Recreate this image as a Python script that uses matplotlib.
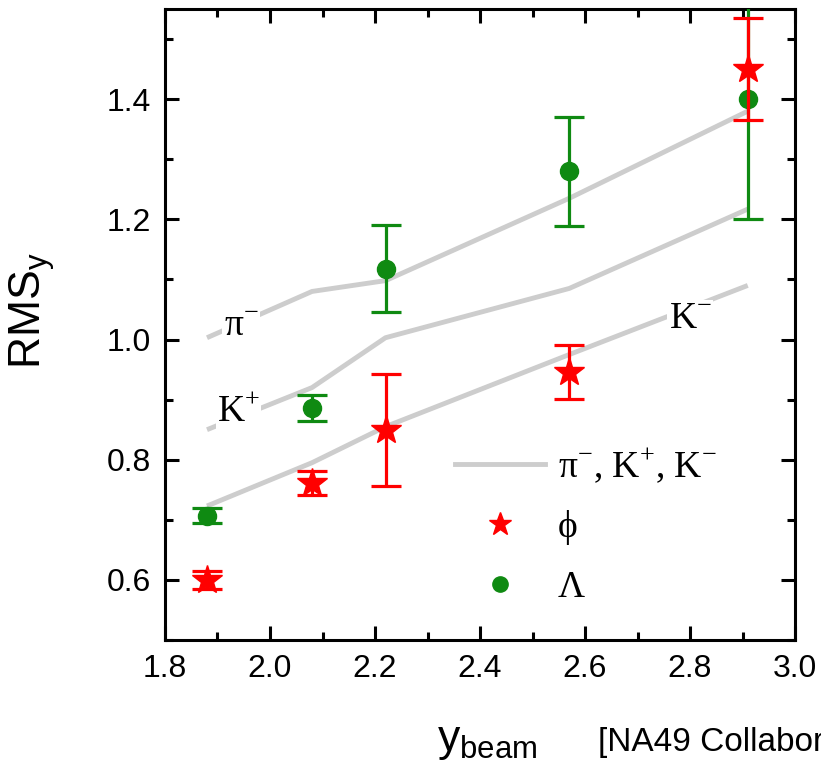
import matplotlib
matplotlib.use("Agg")
import matplotlib.pyplot as plt
from matplotlib.lines import Line2D
from matplotlib.ticker import MultipleLocator

# beam rapidity values
y_beam = [1.88, 2.08, 2.22, 2.57, 2.91]

# gray reference curves (pi-, K+, K-)
rms_pim = [1.003, 1.080, 1.098, 1.235, 1.380]
rms_kp = [0.850, 0.920, 1.003, 1.085, 1.217]
rms_km = [0.723, 0.795, 0.855, 0.975, 1.090]

# phi
rms_phi = [0.600, 0.762, 0.850, 0.946, 1.450]
err_phi = [0.015, 0.020, 0.093, 0.045, 0.085]

# Lambda
rms_lam = [0.707, 0.886, 1.118, 1.280, 1.400]
err_lam = [0.012, 0.022, 0.072, 0.091, 0.200]

plt.rcParams["font.family"] = ["Liberation Sans", "DejaVu Sans"]

fig = plt.figure(figsize=(8.21, 7.68), dpi=100)
ax = fig.add_axes([165 / 821, 1 - 640 / 768, 630 / 821, 631 / 768])

gray = "#cdcdcd"
red = "#ff0000"
green = "#0f8a12"

for vals in (rms_pim, rms_kp, rms_km):
    ax.plot(y_beam, vals, color=gray, lw=3.5, solid_capstyle="butt", zorder=1)

serif = ["Liberation Serif", "DejaVu Serif"]
lab_box = dict(facecolor="white", edgecolor="none", pad=1)
ax.text(1.945, 1.022, r"π$^\mathregular{-}$", fontsize=27, family=serif, ha="center",
        va="center", bbox=lab_box, zorder=2)
ax.text(1.94, 0.878, r"K$^\mathregular{+}$", fontsize=27, family=serif, ha="center",
        va="center", bbox=lab_box, zorder=2)
ax.text(2.80, 1.035, r"K$^\mathregular{-}$", fontsize=27, family=serif, ha="center",
        va="center", bbox=lab_box, zorder=2)

ax.errorbar(y_beam, rms_lam, yerr=err_lam, fmt="o", color=green, ms=13, elinewidth=2.3,
            capsize=11, capthick=2.3, zorder=3)
ax.errorbar(y_beam, rms_phi, yerr=err_phi, fmt="*", color=red, ms=22, elinewidth=2.3,
            capsize=11, capthick=2.3, zorder=4)

ax.set_xlim(1.8, 3.0)
ax.set_ylim(0.5, 1.55)
ax.xaxis.set_major_locator(MultipleLocator(0.2))
ax.xaxis.set_minor_locator(MultipleLocator(0.1))
ax.yaxis.set_major_locator(MultipleLocator(0.2))
ax.yaxis.set_minor_locator(MultipleLocator(0.1))
ax.xaxis.set_major_formatter(plt.FormatStrFormatter("%.1f"))
ax.yaxis.set_major_formatter(plt.FormatStrFormatter("%.1f"))
ax.tick_params(which="both", direction="in", top=True, right=True, width=2.2,
               labelsize=23, pad=10)
ax.tick_params(which="major", length=10)
ax.tick_params(which="minor", length=5.5)
for sp in ax.spines.values():
    sp.set_linewidth(2.2)

handles = [
    Line2D([], [], color=gray, lw=3.5),
    Line2D([], [], color=red, marker="*", ls="none", ms=17),
    Line2D([], [], color=green, marker="o", ls="none", ms=11),
]
labels = [r"π$^\mathregular{-}$, K$^\mathregular{+}$, K$^\mathregular{-}$", "ϕ", "Λ"]
ax.legend(handles, labels, frameon=False, loc="lower left",
          bbox_to_anchor=(0.46, 0.055), prop={"family": serif, "size": 27},
          handlelength=2.4, handletextpad=0.35, labelspacing=0.68,
          borderpad=0, borderaxespad=0)

fig.text(32 / 821, 1 - 311 / 768, r"RMS$_\mathregular{y}$", rotation=90, fontsize=32,
         ha="center", va="center")
fig.text(437 / 821, 1 - 742 / 768, r"y$_\mathregular{beam}$", fontsize=32,
         ha="left", va="center")
fig.text(598 / 821, 1 - 742 / 768, "[NA49 Collaboration]", fontsize=24,
         ha="left", va="center")

fig.savefig("out.png", dpi=100)
